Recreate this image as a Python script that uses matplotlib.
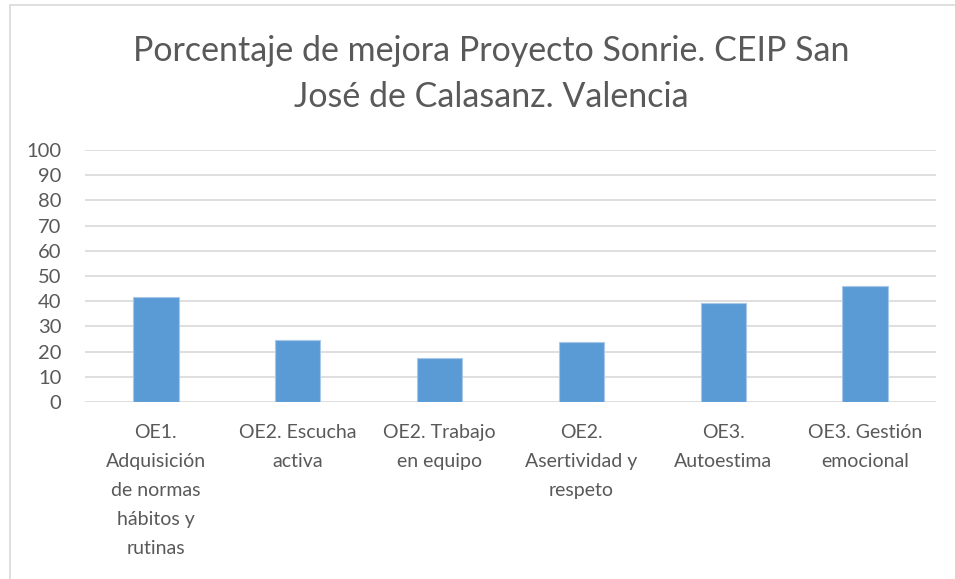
import matplotlib.pyplot as plt
from matplotlib.patches import Rectangle

plt.rcParams['font.family'] = ['Lato', 'DejaVu Sans']

categories = ['OE1.\nAdquisición\nde normas\nhábitos y\nrutinas',
              'OE2. Escucha\nactiva',
              'OE2. Trabajo\nen equipo',
              'OE2.\nAsertividad y\nrespeto',
              'OE3.\nAutoestima',
              'OE3. Gestión\nemocional']
values = [41.5, 24.8, 17.6, 24.0, 39.1, 46.2]
yticks = list(range(0, 101, 10))

fig = plt.figure(figsize=(9.55, 5.79), dpi=100)
ax = fig.add_axes([85/955, 1-402/579, (936-85)/955, (402-150)/579])

# chart frame
fig.patches.append(Rectangle((10/955, -0.01), 1.0, 1-5/579+0.01, transform=fig.transFigure,
                             fill=False, edgecolor='#d9d9d9', linewidth=1.2))

x = range(len(categories))
ax.bar(x, values, width=0.32, color='#5b9bd5', edgecolor='#a9c8e8', linewidth=0.8, zorder=3)

ax.set_ylim(0, 100)
ax.set_xlim(-0.5, len(categories) - 0.5)
ax.set_yticks(yticks)
ax.set_xticks(list(x))
ax.set_xticklabels(categories, linespacing=1.85)
ax.yaxis.grid(True, color='#d9d9d9', linewidth=1.2, zorder=0)
ax.tick_params(axis='both', length=0, labelcolor='#595959')
ax.tick_params(axis='x', pad=16, labelsize=14)
ax.tick_params(axis='y', pad=17, labelsize=14.5)
for s in ax.spines.values():
    s.set_visible(False)

fig.text(0.514, 1-74/579, 'Porcentaje de mejora Proyecto Sonrie. CEIP San\nJosé de Calasanz. Valencia',
         ha='center', va='center', fontsize=24.5, color='#595959', linespacing=1.55)

fig.savefig('out.png', dpi=100)
